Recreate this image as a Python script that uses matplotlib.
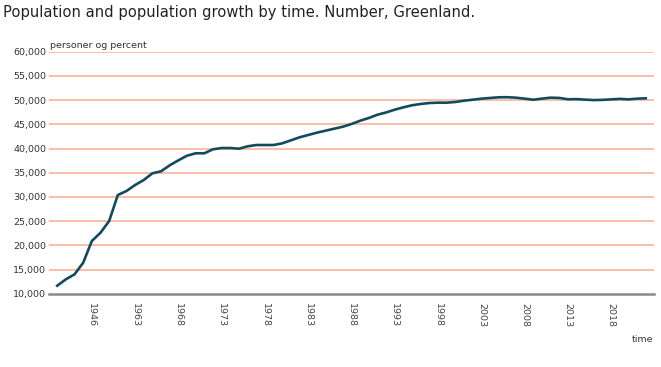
import matplotlib
matplotlib.use("Agg")
import matplotlib.pyplot as plt

years = [1901, 1911, 1921, 1930, 1946, 1950, 1955, 1960, 1962] + list(range(1963, 2023))
population = [
    11650, 12975, 14000, 16400, 20890, 22600, 25020, 30390, 31220,
    32460, 33490, 34880, 35290, 36530, 37560, 38510, 39010, 39010, 39840,
    40100, 40100, 39960, 40450, 40720, 40720, 40720, 41070, 41690, 42310,
    42790, 43270, 43680, 44090, 44500, 45060, 45740, 46300, 46980, 47450,
    48020, 48510, 48930, 49200, 49400, 49470, 49470, 49610, 49880, 50080,
    50290, 50440, 50580, 50600, 50500, 50300, 50080, 50300, 50500, 50450,
    50170, 50200, 50100, 50000, 50050, 50150, 50250, 50150, 50300, 50370,
]
yticks = list(range(10000, 60001, 5000))
label_every = 5
first_label = 4

title = "Population and population growth by time. Number, Greenland."
unit_label = "personer og percent"
x_label = "time"

W, H = 661, 367
fig = plt.figure(figsize=(W / 100, H / 100), dpi=100)
ax = fig.add_axes([49 / W, 1 - 293.7 / H, (654 - 49) / W, (293.7 - 51.7) / H])

x = list(range(len(years)))
ax.plot(x, population, color="#134b5c", linewidth=1.9, solid_joinstyle="round", zorder=3)

ax.set_xlim(-0.95, len(years) - 1 + 0.95)
ax.set_ylim(10000, 60000)
ax.set_yticks(yticks)
ax.set_yticklabels([f"{v:,}" for v in yticks], fontsize=6.8, color="#333333")
tick_pos = list(range(first_label, len(years), label_every))
ax.set_xticks(tick_pos)
ax.set_xticklabels([str(years[i]) for i in tick_pos], rotation=270, fontsize=6.8,
                   color="#444444", va="top", ha="center")
ax.tick_params(axis="both", length=0)
ax.tick_params(axis="y", pad=2)
ax.tick_params(axis="x", pad=7)

for v in yticks[1:]:
    ax.axhline(v, color="#f9ad93", linewidth=1.1, zorder=1)
for s in ["top", "right", "left"]:
    ax.spines[s].set_visible(False)
ax.spines["bottom"].set_color("#8a8a8a")
ax.spines["bottom"].set_linewidth(1.8)

fig.text(3 / W, 1 - 12 / H, title, fontsize=10.6, color="#222222", va="center", ha="left")
fig.text(50 / W, 1 - 45 / H, unit_label, fontsize=6.8, color="#333333", va="center", ha="left")
fig.text(653 / W, 1 - 339 / H, x_label, fontsize=6.8, color="#333333", va="center", ha="right")

fig.savefig("out.png", dpi=100)
